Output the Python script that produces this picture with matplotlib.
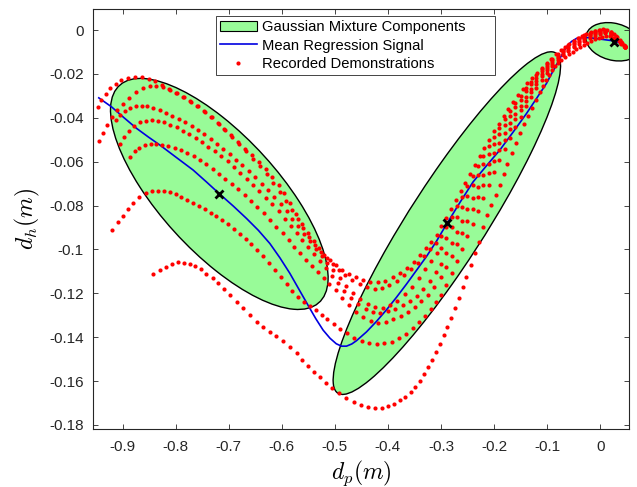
import numpy as np
import matplotlib
matplotlib.use('Agg')
import matplotlib.pyplot as plt
from matplotlib.patches import Ellipse, Patch
from matplotlib.lines import Line2D

plt.rcParams['font.family'] = ['Liberation Sans', 'DejaVu Sans']
plt.rcParams['mathtext.fontset'] = 'cm'

# Gaussian mixture components (means, covariance-shaped ellipses)
gmm_means = [(-0.7176, -0.0747), (-0.2889, -0.0880), (0.0252, -0.00534)]
gmm_covs = [
    [[0.04203, -0.007834], [-0.007834, 0.002774]],
    [[0.0459, 0.01534], [0.01534, 0.006102]],
    [[0.002724, -0.0000945], [-0.0000945, 0.0000766]],
]

# mean regression signal
gmr_x = [-0.9447, -0.9207, -0.8970, -0.8736, -0.8510, -0.8297, -0.7990, -0.7670, -0.7420, -0.7167,
         -0.6910, -0.6663, -0.6440, -0.6224, -0.6035, -0.5847, -0.5680, -0.5503, -0.5360, -0.5220,
         -0.5090, -0.4973, -0.4874, -0.4780, -0.4680, -0.4591, -0.4403, -0.4214, -0.4025, -0.3837,
         -0.3649, -0.3460, -0.3272, -0.3083, -0.2895, -0.2640, -0.2394, -0.2140, -0.1891, -0.1640,
         -0.1387, -0.1200, -0.1011, -0.0900, -0.0792, -0.0710, -0.0634, -0.0540, -0.0445, -0.0320,
         -0.0195, 0.0025, 0.0245, 0.0403]
gmr_y = [-0.0309, -0.0350, -0.0400, -0.0448, -0.0488, -0.0524, -0.0580, -0.0638, -0.0692, -0.0748,
         -0.0803, -0.0859, -0.0913, -0.0973, -0.1038, -0.1109, -0.1180, -0.1255, -0.1315, -0.1368,
         -0.1405, -0.1430, -0.1441, -0.1441, -0.1431, -0.1416, -0.1376, -0.1328, -0.1275, -0.1218,
         -0.1158, -0.1095, -0.1032, -0.0962, -0.0885, -0.0785, -0.0692, -0.0618, -0.0547, -0.0465,
         -0.0380, -0.0312, -0.0243, -0.0192, -0.0145, -0.0108, -0.0076, -0.0052, -0.0038, -0.0034,
         -0.0035, -0.0042, -0.0049, -0.0061]

# recorded demonstrations
demo1 = [(-0.946, -0.0350), (-0.940, -0.0318), (-0.932, -0.0290), (-0.923, -0.0265), (-0.913, -0.0245),
         (-0.902, -0.0229), (-0.890, -0.0219), (-0.877, -0.0215), (-0.864, -0.0216), (-0.851, -0.0221),
         (-0.838, -0.0234), (-0.825, -0.0252), (-0.812, -0.0270), (-0.799, -0.0289), (-0.786, -0.0307),
         (-0.773, -0.0325), (-0.760, -0.0345), (-0.747, -0.0370), (-0.734, -0.0396), (-0.721, -0.0423),
         (-0.708, -0.0452), (-0.695, -0.0480), (-0.682, -0.0510), (-0.669, -0.0540), (-0.656, -0.0570),
         (-0.643, -0.0600), (-0.630, -0.0633), (-0.618, -0.0668), (-0.606, -0.0705), (-0.595, -0.0745),
         (-0.584, -0.0790), (-0.573, -0.0840), (-0.562, -0.0885), (-0.551, -0.0925), (-0.540, -0.0962),
         (-0.530, -0.0995), (-0.520, -0.1025), (-0.509, -0.1050), (-0.498, -0.1072), (-0.486, -0.1092),
         (-0.474, -0.1110), (-0.461, -0.1127), (-0.447, -0.1141), (-0.433, -0.1149), (-0.419, -0.1150),
         (-0.405, -0.1143), (-0.391, -0.1128), (-0.377, -0.1107), (-0.364, -0.1083), (-0.351, -0.1056),
         (-0.339, -0.1025), (-0.328, -0.0995), (-0.318, -0.0965), (-0.308, -0.0935), (-0.299, -0.0895),
         (-0.290, -0.0855), (-0.281, -0.0815), (-0.272, -0.0775), (-0.263, -0.0735), (-0.254, -0.0695),
         (-0.245, -0.0655), (-0.236, -0.0615), (-0.227, -0.0576), (-0.218, -0.0537), (-0.209, -0.0499),
         (-0.200, -0.0462), (-0.191, -0.0426), (-0.182, -0.0392), (-0.173, -0.0359), (-0.164, -0.0328),
         (-0.155, -0.0298), (-0.146, -0.0270), (-0.137, -0.0243), (-0.128, -0.0218), (-0.119, -0.0194),
         (-0.110, -0.0171), (-0.101, -0.0150), (-0.092, -0.0130), (-0.083, -0.0111), (-0.074, -0.0093),
         (-0.066, -0.0077), (-0.058, -0.0062), (-0.050, -0.0048), (-0.042, -0.0036), (-0.034, -0.0025),
         (-0.026, -0.0016), (-0.018, -0.0008), (-0.010, -0.0002), (-0.002, 0.0002), (0.006, 0.0003),
         (0.013, 0.0000), (0.020, -0.0008), (0.026, -0.0019), (0.032, -0.0033), (0.037, -0.0046),
         (0.041, -0.0058), (0.044, -0.0067), (0.047, -0.0076)]

demo2_start = [(-0.945, -0.0506), (-0.937, -0.0468), (-0.929, -0.0432), (-0.920, -0.0398), (-0.910, -0.0366),
               (-0.899, -0.0336), (-0.887, -0.0308), (-0.875, -0.0284), (-0.862, -0.0266), (-0.849, -0.0256),
               (-0.836, -0.0254), (-0.823, -0.0260), (-0.810, -0.0272), (-0.797, -0.0288), (-0.784, -0.0306),
               (-0.771, -0.0326), (-0.758, -0.0348), (-0.745, -0.0372), (-0.732, -0.0398), (-0.719, -0.0426),
               (-0.706, -0.0456), (-0.693, -0.0487), (-0.680, -0.0519), (-0.667, -0.0552), (-0.654, -0.0586),
               (-0.641, -0.0621), (-0.628, -0.0658), (-0.616, -0.0696), (-0.604, -0.0736), (-0.592, -0.0778),
               (-0.581, -0.0820), (-0.570, -0.0862), (-0.559, -0.0903), (-0.548, -0.0942), (-0.537, -0.0978),
               (-0.526, -0.1011), (-0.515, -0.1041), (-0.504, -0.1068), (-0.492, -0.1094), (-0.480, -0.1118),
               (-0.467, -0.1140), (-0.453, -0.1159), (-0.439, -0.1173), (-0.425, -0.1179), (-0.411, -0.1176),
               (-0.397, -0.1164), (-0.383, -0.1144), (-0.369, -0.1118), (-0.356, -0.1088), (-0.343, -0.1060),
               (-0.331, -0.1030), (-0.320, -0.1000), (-0.309, -0.0970)]

demo3_start = [(-0.912, -0.0412), (-0.905, -0.0387), (-0.896, -0.0367), (-0.886, -0.0354), (-0.875, -0.0347),
               (-0.864, -0.0345), (-0.853, -0.0348), (-0.842, -0.0355), (-0.830, -0.0365), (-0.818, -0.0377),
               (-0.806, -0.0390), (-0.794, -0.0405), (-0.782, -0.0421), (-0.770, -0.0438), (-0.758, -0.0456),
               (-0.746, -0.0476), (-0.734, -0.0497), (-0.722, -0.0519), (-0.710, -0.0542), (-0.698, -0.0566),
               (-0.686, -0.0591), (-0.674, -0.0617), (-0.662, -0.0644), (-0.650, -0.0672), (-0.638, -0.0701),
               (-0.626, -0.0731), (-0.614, -0.0762), (-0.602, -0.0794), (-0.591, -0.0826), (-0.580, -0.0860),
               (-0.569, -0.0894), (-0.558, -0.0929), (-0.547, -0.0963), (-0.536, -0.0997), (-0.525, -0.1030),
               (-0.514, -0.1063), (-0.503, -0.1095), (-0.491, -0.1130), (-0.479, -0.1165), (-0.466, -0.1197),
               (-0.452, -0.1226), (-0.438, -0.1250), (-0.424, -0.1263), (-0.410, -0.1265), (-0.396, -0.1255),
               (-0.382, -0.1235), (-0.368, -0.1205), (-0.355, -0.1170), (-0.342, -0.1130), (-0.330, -0.1090),
               (-0.319, -0.1052), (-0.308, -0.1015)]

demo4_start = [(-0.905, -0.0520), (-0.897, -0.0487), (-0.888, -0.0458), (-0.878, -0.0436), (-0.867, -0.0421),
               (-0.856, -0.0413), (-0.845, -0.0411), (-0.834, -0.0414), (-0.822, -0.0421), (-0.810, -0.0431),
               (-0.798, -0.0444), (-0.786, -0.0459), (-0.774, -0.0475), (-0.762, -0.0492), (-0.750, -0.0511),
               (-0.738, -0.0531), (-0.726, -0.0552), (-0.714, -0.0575), (-0.702, -0.0599), (-0.690, -0.0624),
               (-0.678, -0.0650), (-0.666, -0.0677), (-0.654, -0.0705), (-0.642, -0.0734), (-0.630, -0.0764),
               (-0.618, -0.0795), (-0.606, -0.0827), (-0.594, -0.0860), (-0.583, -0.0892), (-0.572, -0.0925),
               (-0.561, -0.0958), (-0.550, -0.0990), (-0.539, -0.1022), (-0.528, -0.1053), (-0.517, -0.1085),
               (-0.506, -0.1120), (-0.494, -0.1155), (-0.482, -0.1188), (-0.469, -0.1220), (-0.456, -0.1248),
               (-0.442, -0.1270), (-0.428, -0.1284), (-0.414, -0.1288), (-0.400, -0.1283), (-0.386, -0.1270),
               (-0.372, -0.1255), (-0.358, -0.1237), (-0.345, -0.1213), (-0.333, -0.1180), (-0.321, -0.1142),
               (-0.310, -0.1104)]

demo5_start = [(-0.885, -0.0580), (-0.877, -0.0553), (-0.868, -0.0536), (-0.858, -0.0525), (-0.847, -0.0520),
               (-0.836, -0.0519), (-0.825, -0.0522), (-0.814, -0.0528), (-0.802, -0.0537), (-0.790, -0.0548),
               (-0.778, -0.0561), (-0.766, -0.0576), (-0.754, -0.0593), (-0.742, -0.0612), (-0.730, -0.0632),
               (-0.718, -0.0654), (-0.706, -0.0677), (-0.694, -0.0701), (-0.682, -0.0726), (-0.670, -0.0752),
               (-0.658, -0.0779), (-0.646, -0.0807), (-0.634, -0.0836), (-0.622, -0.0866), (-0.610, -0.0896),
               (-0.598, -0.0927), (-0.587, -0.0957), (-0.576, -0.0987), (-0.565, -0.1017), (-0.554, -0.1046),
               (-0.543, -0.1075), (-0.532, -0.1103), (-0.521, -0.1130), (-0.510, -0.1157), (-0.498, -0.1185),
               (-0.486, -0.1222), (-0.473, -0.1255), (-0.460, -0.1285), (-0.446, -0.1310), (-0.432, -0.1328),
               (-0.418, -0.1335), (-0.404, -0.1331), (-0.390, -0.1317), (-0.376, -0.1303), (-0.362, -0.1285),
               (-0.349, -0.1262), (-0.337, -0.1236), (-0.325, -0.1207), (-0.313, -0.1172)]

demo6_start = [(-0.919, -0.0912), (-0.908, -0.0874), (-0.899, -0.0848), (-0.889, -0.0818), (-0.880, -0.0790),
               (-0.868, -0.0763), (-0.856, -0.0745), (-0.844, -0.0735), (-0.833, -0.0733), (-0.822, -0.0735),
               (-0.811, -0.0740), (-0.800, -0.0749), (-0.789, -0.0760), (-0.778, -0.0773), (-0.767, -0.0787),
               (-0.756, -0.0802), (-0.745, -0.0817), (-0.734, -0.0832), (-0.723, -0.0848), (-0.712, -0.0866),
               (-0.701, -0.0885), (-0.690, -0.0906), (-0.679, -0.0928), (-0.668, -0.0952), (-0.657, -0.0977),
               (-0.646, -0.1003), (-0.635, -0.1031), (-0.624, -0.1060), (-0.613, -0.1092), (-0.602, -0.1125),
               (-0.591, -0.1158), (-0.580, -0.1188), (-0.569, -0.1215), (-0.558, -0.1238), (-0.547, -0.1258),
               (-0.536, -0.1278), (-0.525, -0.1298), (-0.514, -0.1318), (-0.502, -0.1340), (-0.490, -0.1362),
               (-0.477, -0.1383), (-0.463, -0.1402), (-0.449, -0.1417), (-0.435, -0.1427), (-0.421, -0.1430),
               (-0.407, -0.1428), (-0.393, -0.1420), (-0.379, -0.1405), (-0.366, -0.1385), (-0.353, -0.1360),
               (-0.341, -0.1332), (-0.330, -0.1302), (-0.319, -0.1270), (-0.309, -0.1240)]

# rising part of demos 2-6 (same sample x positions)
rise_x = [-0.30, -0.29, -0.28, -0.27, -0.26, -0.25, -0.24, -0.23, -0.22, -0.21, -0.20, -0.19,
          -0.18, -0.17, -0.16, -0.15, -0.14, -0.13, -0.12, -0.11, -0.10, -0.09, -0.08, -0.07,
          -0.06, -0.05, -0.04, -0.03, -0.02, -0.01, 0.00, 0.01, 0.02, 0.03, 0.04, 0.046]
demo2_rise = [-0.0941, -0.0896, -0.0851, -0.0804, -0.0759, -0.0712, -0.0666, -0.0620, -0.0575, -0.0530,
              -0.0487, -0.0445, -0.0406, -0.0368, -0.0332, -0.0300, -0.0265, -0.0235, -0.0206, -0.0178,
              -0.0154, -0.0131, -0.0109, -0.0089, -0.0070, -0.0052, -0.0038, -0.0024, -0.0013, -0.0005,
              -0.0001, 0.0000, -0.0010, -0.0029, -0.0055, -0.0073]
demo3_rise = [-0.0992, -0.0946, -0.0900, -0.0852, -0.0805, -0.0756, -0.0708, -0.0660, -0.0612, -0.0564,
              -0.0518, -0.0473, -0.0432, -0.0391, -0.0353, -0.0318, -0.0280, -0.0248, -0.0217, -0.0188,
              -0.0162, -0.0137, -0.0114, -0.0094, -0.0075, -0.0057, -0.0043, -0.0028, -0.0018, -0.0009,
              -0.0004, -0.0003, -0.0012, -0.0031, -0.0056, -0.0074]
demo4_rise = [-0.1065, -0.1018, -0.0969, -0.0919, -0.0869, -0.0818, -0.0766, -0.0714, -0.0663, -0.0611,
              -0.0561, -0.0513, -0.0468, -0.0424, -0.0382, -0.0344, -0.0303, -0.0267, -0.0233, -0.0200,
              -0.0172, -0.0146, -0.0121, -0.0101, -0.0083, -0.0065, -0.0050, -0.0035, -0.0024, -0.0014,
              -0.0009, -0.0007, -0.0015, -0.0032, -0.0057, -0.0075]
demo5_rise = [-0.1127, -0.1079, -0.1029, -0.0976, -0.0924, -0.0871, -0.0816, -0.0761, -0.0707, -0.0651,
              -0.0598, -0.0547, -0.0499, -0.0452, -0.0407, -0.0366, -0.0322, -0.0283, -0.0246, -0.0211,
              -0.0181, -0.0153, -0.0127, -0.0107, -0.0089, -0.0071, -0.0056, -0.0041, -0.0029, -0.0019,
              -0.0013, -0.0010, -0.0018, -0.0034, -0.0058, -0.0075]
demo6_rise = [-0.1210, -0.1160, -0.1108, -0.1053, -0.0998, -0.0941, -0.0883, -0.0824, -0.0765, -0.0705,
              -0.0648, -0.0592, -0.0540, -0.0490, -0.0441, -0.0395, -0.0347, -0.0304, -0.0264, -0.0226,
              -0.0194, -0.0163, -0.0135, -0.0115, -0.0097, -0.0079, -0.0064, -0.0048, -0.0036, -0.0025,
              -0.0018, -0.0015, -0.0021, -0.0036, -0.0059, -0.0076]

demo7 = [(-0.842, -0.1113), (-0.830, -0.1094), (-0.818, -0.1079), (-0.806, -0.1067), (-0.795, -0.1059),
         (-0.784, -0.1061), (-0.773, -0.1067), (-0.763, -0.1076), (-0.753, -0.1091), (-0.742, -0.1110),
         (-0.730, -0.1132), (-0.720, -0.1155), (-0.709, -0.1182), (-0.698, -0.1208), (-0.685, -0.1239),
         (-0.673, -0.1269), (-0.660, -0.1300), (-0.647, -0.1330), (-0.635, -0.1353), (-0.622, -0.1375),
         (-0.610, -0.1395), (-0.597, -0.1418), (-0.585, -0.1444), (-0.572, -0.1474), (-0.561, -0.1505),
         (-0.550, -0.1532), (-0.539, -0.1558), (-0.528, -0.1583), (-0.517, -0.1608), (-0.505, -0.1632),
         (-0.492, -0.1655), (-0.478, -0.1676), (-0.464, -0.1695), (-0.451, -0.1708), (-0.438, -0.1717),
         (-0.425, -0.1722), (-0.412, -0.1721), (-0.400, -0.1715), (-0.388, -0.1703), (-0.377, -0.1688),
         (-0.367, -0.1672), (-0.357, -0.1652), (-0.348, -0.1628), (-0.340, -0.1600), (-0.332, -0.1569),
         (-0.324, -0.1538), (-0.317, -0.1505), (-0.310, -0.1467), (-0.302, -0.1429), (-0.295, -0.1391),
         (-0.288, -0.1353), (-0.281, -0.1312), (-0.274, -0.1269), (-0.266, -0.1223), (-0.259, -0.1173),
         (-0.252, -0.1125), (-0.244, -0.1072), (-0.236, -0.1018), (-0.229, -0.0965), (-0.221, -0.0897),
         (-0.213, -0.0845), (-0.205, -0.0798), (-0.197, -0.0752), (-0.189, -0.0707), (-0.182, -0.0658),
         (-0.175, -0.0610), (-0.167, -0.0562), (-0.159, -0.0516), (-0.151, -0.0470), (-0.144, -0.0428),
         (-0.136, -0.0390), (-0.129, -0.0355), (-0.121, -0.0318), (-0.114, -0.0283), (-0.108, -0.0254),
         (-0.102, -0.0228), (-0.097, -0.0205), (-0.091, -0.0182), (-0.086, -0.0165), (-0.080, -0.0150),
         (-0.073, -0.0135), (-0.066, -0.0122), (-0.059, -0.0110), (-0.052, -0.0098), (-0.045, -0.0087),
         (-0.038, -0.0076), (-0.031, -0.0066), (-0.024, -0.0057), (-0.017, -0.0049), (-0.010, -0.0041),
         (-0.003, -0.0035), (0.004, -0.0030), (0.011, -0.0027), (0.018, -0.0028), (0.024, -0.0034),
         (0.030, -0.0042), (0.035, -0.0052), (0.040, -0.0062), (0.044, -0.0071), (0.047, -0.0078)]

xtick_vals = [-0.9, -0.8, -0.7, -0.6, -0.5, -0.4, -0.3, -0.2, -0.1, 0.0]
ytick_vals = [0.0, -0.02, -0.04, -0.06, -0.08, -0.1, -0.12, -0.14, -0.16, -0.18]

demos = [demo1,
         demo2_start + list(zip(rise_x, demo2_rise)),
         demo3_start + list(zip(rise_x, demo3_rise)),
         demo4_start + list(zip(rise_x, demo4_rise)),
         demo5_start + list(zip(rise_x, demo5_rise)),
         demo6_start + list(zip(rise_x, demo6_rise)),
         demo7]

fig = plt.figure(figsize=(6.37, 4.87), dpi=100)
ax = fig.add_axes([0.1465, 0.1185, 0.8415, 0.863])

green = '#98fb98'
for mu, cov in zip(gmm_means, gmm_covs):
    vals, vecs = np.linalg.eigh(np.array(cov))
    ang = np.degrees(np.arctan2(vecs[1, 1], vecs[0, 1]))
    ax.add_patch(Ellipse(mu, 2 * np.sqrt(vals[1]), 2 * np.sqrt(vals[0]), angle=ang,
                         facecolor=green, edgecolor='k', lw=1.0, zorder=1))

ax.plot(gmr_x, gmr_y, color='#0000e0', lw=1.2, zorder=2)

for d in demos:
    dx = [p[0] for p in d]
    dy = [p[1] for p in d]
    ax.plot(dx, dy, 'o', color='red', ms=3.0, mec='none', zorder=3)

ax.plot([m[0] for m in gmm_means], [m[1] for m in gmm_means], 'x', color='k',
        ms=6, mew=2, zorder=4)

ax.set_xlim(-0.955, 0.055)
ax.set_ylim(-0.182, 0.0096)
ax.set_xticks(xtick_vals)
ax.set_xticklabels(['%g' % v for v in xtick_vals])
ax.set_yticks(ytick_vals)
ax.set_yticklabels(['%g' % v for v in ytick_vals])
ax.tick_params(direction='in', length=3.6, width=0.6, top=True, right=True,
               colors='#262626', labelsize=11)
ax.tick_params(axis='x', pad=8)
ax.tick_params(axis='y', pad=7)
for s in ax.spines.values():
    s.set_color('#262626')
    s.set_linewidth(0.8)

ax.set_xlabel(r'$d_p(m)$', fontsize=17, labelpad=3)
ax.set_ylabel(r'$d_h(m)$', fontsize=17, labelpad=5)

handles = [Patch(facecolor=green, edgecolor='k', lw=0.8),
           Line2D([], [], color='#0000e0', lw=1.2),
           Line2D([], [], ls='none', marker='o', color='red', ms=3.0, mec='none')]
labels = ['Gaussian Mixture Components', 'Mean Regression Signal', 'Recorded Demonstrations']
leg = ax.legend(handles, labels, loc='upper left', bbox_to_anchor=(0.228, 0.837, 0.521, 0.147),
                mode='expand', borderaxespad=0, fontsize=10.6, handlelength=2.5,
                handletextpad=0.36, borderpad=0.3, labelspacing=0.3, fancybox=False,
                framealpha=1, edgecolor='#262626')
leg.get_frame().set_linewidth(0.6)

fig.savefig('out.png', dpi=100)
